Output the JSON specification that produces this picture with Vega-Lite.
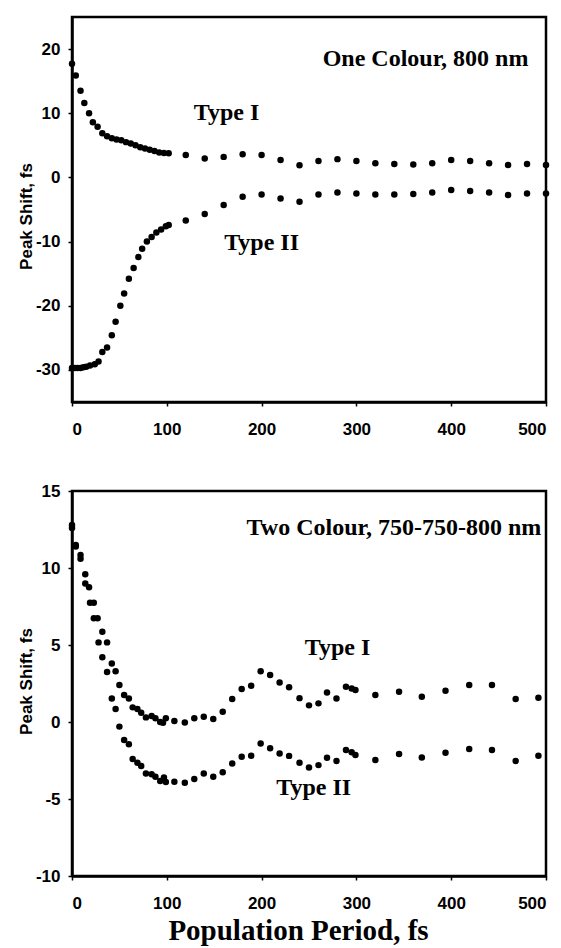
{
  "$schema": "https://vega.github.io/schema/vega-lite/v6.json",
  "padding": {"left": 15, "top": 15, "right": 8, "bottom": 4},
  "bounds": "flush",
  "spacing": 89,
  "background": "white",
  "config": {
    "view": {"stroke": "black", "strokeWidth": 2.5},
    "axis": {
      "grid": false,
      "domainColor": "black",
      "domainWidth": 2.5,
      "tickColor": "black",
      "tickSize": 4,
      "tickWidth": 1.5,
      "labelFont": "Liberation Sans",
      "labelFontWeight": "bold",
      "labelFontSize": 17,
      "labelColor": "black",
      "titleColor": "black",
      "labelExpr": "'' + datum.value"
    },
    "axisY": {
      "labelPadding": 8,
      "titleFont": "Liberation Sans",
      "titleFontWeight": "bold",
      "titleFontSize": 17,
      "titleX": -46,
      "titleY": 199,
      "titleBaseline": "middle"
    },
    "axisX": {"labelPadding": 15},
    "text": {"font": "Liberation Serif", "fontWeight": "bold", "fontSize": 24, "color": "black", "baseline": "alphabetic"}
  },
  "datasets": {
    "top": [
      {"t": 0, "shift": 17.7, "type": "I"}, {"t": 4, "shift": 15.9, "type": "I"}, {"t": 9, "shift": 13.5, "type": "I"}, {"t": 13, "shift": 11.6, "type": "I"}, {"t": 18, "shift": 10.0, "type": "I"}, {"t": 22, "shift": 8.6, "type": "I"}, {"t": 27, "shift": 7.9, "type": "I"}, {"t": 32, "shift": 6.9, "type": "I"}, {"t": 37, "shift": 6.4, "type": "I"}, {"t": 42, "shift": 6.1, "type": "I"}, {"t": 47, "shift": 5.9, "type": "I"}, {"t": 52, "shift": 5.8, "type": "I"}, {"t": 57, "shift": 5.5, "type": "I"}, {"t": 62, "shift": 5.3, "type": "I"}, {"t": 67, "shift": 5.0, "type": "I"}, {"t": 72, "shift": 4.7, "type": "I"}, {"t": 77, "shift": 4.5, "type": "I"}, {"t": 82, "shift": 4.3, "type": "I"}, {"t": 87, "shift": 4.1, "type": "I"}, {"t": 92, "shift": 3.9, "type": "I"}, {"t": 97, "shift": 3.8, "type": "I"}, {"t": 102, "shift": 3.75, "type": "I"}, {"t": 120, "shift": 3.5, "type": "I"}, {"t": 140, "shift": 2.95, "type": "I"}, {"t": 160, "shift": 3.2, "type": "I"}, {"t": 180, "shift": 3.6, "type": "I"}, {"t": 200, "shift": 3.5, "type": "I"}, {"t": 220, "shift": 2.7, "type": "I"}, {"t": 240, "shift": 1.9, "type": "I"}, {"t": 260, "shift": 2.55, "type": "I"}, {"t": 280, "shift": 2.85, "type": "I"}, {"t": 300, "shift": 2.55, "type": "I"}, {"t": 320, "shift": 2.2, "type": "I"}, {"t": 340, "shift": 2.1, "type": "I"}, {"t": 360, "shift": 2.0, "type": "I"}, {"t": 380, "shift": 2.2, "type": "I"}, {"t": 400, "shift": 2.7, "type": "I"}, {"t": 420, "shift": 2.55, "type": "I"}, {"t": 440, "shift": 2.2, "type": "I"}, {"t": 460, "shift": 1.95, "type": "I"}, {"t": 480, "shift": 2.1, "type": "I"}, {"t": 500, "shift": 1.95, "type": "I"},
      {"t": 0, "shift": -29.7, "type": "II"}, {"t": 3, "shift": -29.7, "type": "II"}, {"t": 6, "shift": -29.7, "type": "II"}, {"t": 9, "shift": -29.7, "type": "II"}, {"t": 12, "shift": -29.6, "type": "II"}, {"t": 15, "shift": -29.5, "type": "II"}, {"t": 19, "shift": -29.3, "type": "II"}, {"t": 24, "shift": -29.1, "type": "II"}, {"t": 28, "shift": -28.7, "type": "II"}, {"t": 32, "shift": -27.2, "type": "II"}, {"t": 37, "shift": -26.5, "type": "II"}, {"t": 42, "shift": -24.6, "type": "II"}, {"t": 46, "shift": -22.5, "type": "II"}, {"t": 51, "shift": -20.0, "type": "II"}, {"t": 55, "shift": -18.1, "type": "II"}, {"t": 60, "shift": -15.8, "type": "II"}, {"t": 65, "shift": -14.1, "type": "II"}, {"t": 70, "shift": -12.4, "type": "II"}, {"t": 74, "shift": -11.1, "type": "II"}, {"t": 79, "shift": -10.0, "type": "II"}, {"t": 84, "shift": -9.3, "type": "II"}, {"t": 89, "shift": -8.6, "type": "II"}, {"t": 94, "shift": -8.1, "type": "II"}, {"t": 99, "shift": -7.6, "type": "II"}, {"t": 102, "shift": -7.4, "type": "II"}, {"t": 120, "shift": -6.7, "type": "II"}, {"t": 140, "shift": -5.7, "type": "II"}, {"t": 160, "shift": -4.3, "type": "II"}, {"t": 180, "shift": -3.0, "type": "II"}, {"t": 200, "shift": -2.65, "type": "II"}, {"t": 220, "shift": -3.3, "type": "II"}, {"t": 240, "shift": -3.8, "type": "II"}, {"t": 260, "shift": -2.65, "type": "II"}, {"t": 280, "shift": -2.35, "type": "II"}, {"t": 300, "shift": -2.5, "type": "II"}, {"t": 320, "shift": -2.65, "type": "II"}, {"t": 340, "shift": -2.65, "type": "II"}, {"t": 360, "shift": -2.6, "type": "II"}, {"t": 380, "shift": -2.35, "type": "II"}, {"t": 400, "shift": -1.95, "type": "II"}, {"t": 420, "shift": -2.1, "type": "II"}, {"t": 440, "shift": -2.35, "type": "II"}, {"t": 460, "shift": -2.75, "type": "II"}, {"t": 480, "shift": -2.5, "type": "II"}, {"t": 500, "shift": -2.5, "type": "II"}
    ],
    "bottom": [
      {"t": 0, "shift": 12.8, "type": "I"}, {"t": 4, "shift": 11.5, "type": "I"}, {"t": 9, "shift": 10.85, "type": "I"}, {"t": 14, "shift": 9.6, "type": "I"}, {"t": 18, "shift": 8.75, "type": "I"}, {"t": 23, "shift": 7.75, "type": "I"}, {"t": 27, "shift": 6.73, "type": "I"}, {"t": 32, "shift": 5.86, "type": "I"}, {"t": 37, "shift": 5.17, "type": "I"}, {"t": 42, "shift": 3.8, "type": "I"}, {"t": 46, "shift": 3.3, "type": "I"}, {"t": 50, "shift": 2.4, "type": "I"}, {"t": 55, "shift": 1.75, "type": "I"}, {"t": 60, "shift": 1.53, "type": "I"}, {"t": 64, "shift": 0.95, "type": "I"}, {"t": 69, "shift": 0.84, "type": "I"}, {"t": 73, "shift": 0.6, "type": "I"}, {"t": 78, "shift": 0.3, "type": "I"}, {"t": 84, "shift": 0.39, "type": "I"}, {"t": 88, "shift": 0.24, "type": "I"}, {"t": 93, "shift": 0.0, "type": "I"}, {"t": 96, "shift": -0.05, "type": "I"}, {"t": 99, "shift": 0.25, "type": "I"}, {"t": 108, "shift": 0.06, "type": "I"}, {"t": 119, "shift": -0.03, "type": "I"}, {"t": 129, "shift": 0.24, "type": "I"}, {"t": 139, "shift": 0.34, "type": "I"}, {"t": 149, "shift": 0.19, "type": "I"}, {"t": 159, "shift": 0.67, "type": "I"}, {"t": 169, "shift": 1.49, "type": "I"}, {"t": 179, "shift": 2.14, "type": "I"}, {"t": 189, "shift": 2.36, "type": "I"}, {"t": 199, "shift": 3.3, "type": "I"}, {"t": 209, "shift": 3.05, "type": "I"}, {"t": 219, "shift": 2.57, "type": "I"}, {"t": 229, "shift": 2.25, "type": "I"}, {"t": 240, "shift": 1.55, "type": "I"}, {"t": 250, "shift": 1.08, "type": "I"}, {"t": 260, "shift": 1.21, "type": "I"}, {"t": 269, "shift": 1.92, "type": "I"}, {"t": 279, "shift": 1.53, "type": "I"}, {"t": 289, "shift": 2.29, "type": "I"}, {"t": 295, "shift": 2.18, "type": "I"}, {"t": 299, "shift": 2.08, "type": "I"}, {"t": 320, "shift": 1.75, "type": "I"}, {"t": 345, "shift": 1.97, "type": "I"}, {"t": 369, "shift": 1.64, "type": "I"}, {"t": 394, "shift": 2.03, "type": "I"}, {"t": 419, "shift": 2.4, "type": "I"}, {"t": 443, "shift": 2.4, "type": "I"}, {"t": 468, "shift": 1.49, "type": "I"}, {"t": 492, "shift": 1.58, "type": "I"},
      {"t": 0, "shift": 12.6, "type": "II"}, {"t": 4, "shift": 11.4, "type": "II"}, {"t": 9, "shift": 10.6, "type": "II"}, {"t": 14, "shift": 9.0, "type": "II"}, {"t": 19, "shift": 7.75, "type": "II"}, {"t": 23, "shift": 6.73, "type": "II"}, {"t": 28, "shift": 5.17, "type": "II"}, {"t": 32, "shift": 4.2, "type": "II"}, {"t": 37, "shift": 3.25, "type": "II"}, {"t": 42, "shift": 1.53, "type": "II"}, {"t": 46, "shift": 0.84, "type": "II"}, {"t": 50, "shift": -0.3, "type": "II"}, {"t": 55, "shift": -1.17, "type": "II"}, {"t": 60, "shift": -1.45, "type": "II"}, {"t": 64, "shift": -2.4, "type": "II"}, {"t": 69, "shift": -2.64, "type": "II"}, {"t": 73, "shift": -2.86, "type": "II"}, {"t": 78, "shift": -3.34, "type": "II"}, {"t": 84, "shift": -3.4, "type": "II"}, {"t": 88, "shift": -3.55, "type": "II"}, {"t": 93, "shift": -3.83, "type": "II"}, {"t": 97, "shift": -3.6, "type": "II"}, {"t": 99, "shift": -3.9, "type": "II"}, {"t": 108, "shift": -3.88, "type": "II"}, {"t": 119, "shift": -3.94, "type": "II"}, {"t": 129, "shift": -3.7, "type": "II"}, {"t": 139, "shift": -3.34, "type": "II"}, {"t": 149, "shift": -3.55, "type": "II"}, {"t": 159, "shift": -3.27, "type": "II"}, {"t": 169, "shift": -2.69, "type": "II"}, {"t": 179, "shift": -2.25, "type": "II"}, {"t": 189, "shift": -2.19, "type": "II"}, {"t": 199, "shift": -1.39, "type": "II"}, {"t": 209, "shift": -1.71, "type": "II"}, {"t": 219, "shift": -2.04, "type": "II"}, {"t": 229, "shift": -2.2, "type": "II"}, {"t": 240, "shift": -2.65, "type": "II"}, {"t": 250, "shift": -2.95, "type": "II"}, {"t": 260, "shift": -2.8, "type": "II"}, {"t": 269, "shift": -2.32, "type": "II"}, {"t": 279, "shift": -2.53, "type": "II"}, {"t": 289, "shift": -1.82, "type": "II"}, {"t": 295, "shift": -1.97, "type": "II"}, {"t": 299, "shift": -2.14, "type": "II"}, {"t": 320, "shift": -2.47, "type": "II"}, {"t": 345, "shift": -2.08, "type": "II"}, {"t": 369, "shift": -2.3, "type": "II"}, {"t": 394, "shift": -2.0, "type": "II"}, {"t": 419, "shift": -1.75, "type": "II"}, {"t": 443, "shift": -1.82, "type": "II"}, {"t": 468, "shift": -2.53, "type": "II"}, {"t": 492, "shift": -2.19, "type": "II"}
    ],
    "topLabels": [
      {"t": 163, "shift": 9.0, "label": "Type I"},
      {"t": 200, "shift": -11.35, "label": "Type II"}
    ],
    "topTitle": [{"t": 481.5, "shift": 17.3, "label": "One Colour, 800 nm"}],
    "bottomLabels": [
      {"t": 280, "shift": 4.35, "label": "Type I"},
      {"t": 255, "shift": -4.74, "label": "Type II"}
    ],
    "bottomTitle": [{"t": 495, "shift": 12.14, "label": "Two Colour, 750-750-800 nm"}]
  },
  "vconcat": [
    {
      "width": 474,
      "height": 385,
      "encoding": {
        "x": {"field": "t", "type": "quantitative", "scale": {"domain": [0, 500], "nice": false}, "axis": {"values": [0, 100, 200, 300, 400, 500], "title": null}},
        "y": {"field": "shift", "type": "quantitative", "scale": {"domain": [-35, 25], "nice": false, "zero": false}, "axis": {"values": [-30, -20, -10, 0, 10, 20], "title": "Peak Shift, fs"}}
      },
      "layer": [
        {"data": {"name": "top"}, "mark": {"type": "circle", "size": 42, "color": "black", "opacity": 1}},
        {"data": {"name": "topLabels"}, "mark": {"type": "text", "align": "center"}, "encoding": {"text": {"field": "label"}}},
        {"data": {"name": "topTitle"}, "mark": {"type": "text", "align": "right"}, "encoding": {"text": {"field": "label"}}}
      ]
    },
    {
      "width": 474,
      "height": 385,
      "encoding": {
        "x": {"field": "t", "type": "quantitative", "scale": {"domain": [0, 500], "nice": false}, "axis": {"values": [0, 100, 200, 300, 400, 500], "title": "Population Period, fs", "titleFont": "Liberation Serif", "titleFontWeight": "bold", "titleFontSize": 29, "titleX": 226, "titleY": 63, "titleAlign": "center", "titleBaseline": "alphabetic"}},
        "y": {"field": "shift", "type": "quantitative", "scale": {"domain": [-10, 15], "nice": false, "zero": false}, "axis": {"values": [-10, -5, 0, 5, 10, 15], "title": "Peak Shift, fs", "titleY": 190}}
      },
      "layer": [
        {"data": {"name": "bottom"}, "mark": {"type": "circle", "size": 42, "color": "black", "opacity": 1}},
        {"data": {"name": "bottomLabels"}, "mark": {"type": "text", "align": "center"}, "encoding": {"text": {"field": "label"}}},
        {"data": {"name": "bottomTitle"}, "mark": {"type": "text", "align": "right"}, "encoding": {"text": {"field": "label"}}}
      ]
    }
  ]
}
